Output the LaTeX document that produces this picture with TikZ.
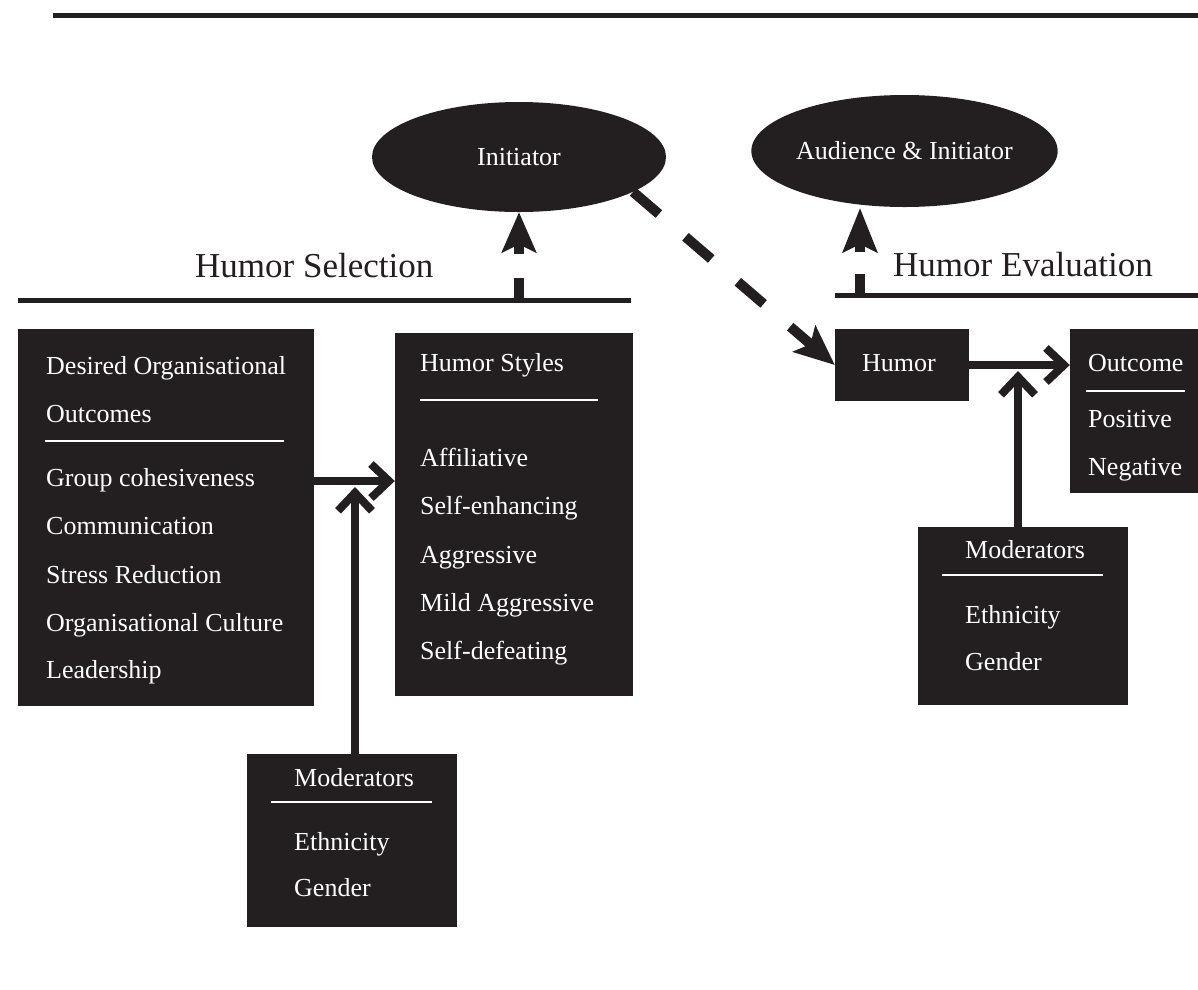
\documentclass[tikz,border=0pt]{standalone}
\usepackage{fontspec}
\setmainfont{Liberation Serif}
\usetikzlibrary{arrows.meta,shapes.geometric}
\definecolor{ink}{HTML}{231F20}
\begin{document}
\begin{tikzpicture}[x=1pt,y=-1pt,
  box/.style={rectangle, fill=ink, draw=none, inner sep=0pt},
  oval/.style={ellipse, fill=ink, draw=none, inner sep=0pt, text=white,
    font=\fontsize{26}{30}\selectfont},
  txt/.style={text=white, font=\fontsize{26}{30}\selectfont, inner sep=0pt, anchor=base west},
  head/.style={text=ink, font=\fontsize{35}{40}\selectfont, inner sep=0pt, anchor=base west},
  rule/.style={ink, line width=5pt},
  wrule/.style={white, line width=2.5pt},
  flow/.style={ink, line width=8pt,
    -{Straight Barb[length=18pt,width=34pt,line cap=butt,line join=miter]}},
  dflow/.style={ink, line width=10pt, -{Stealth[length=40pt,width=34pt,inset=8pt]}},
]
\useasboundingbox (0,0) rectangle (1198,989);

% horizontal rules
\draw[ink, line width=5.5pt] (53,15.5) coordinate (topA) -- (1198,15.5) coordinate (topB);
\draw[rule] (18,300.5) coordinate (selL) -- (631,300.5) coordinate (selR);
\draw[rule] (835,295.5) coordinate (evL) -- (1198,295.5) coordinate (evR);

% headings
\node[head] (hsel) at (195,277) {Humor Selection};
\node[head] (heval) at (893,276) {Humor Evaluation};

% ovals
\node[oval, minimum width=294pt, minimum height=110pt] (init) at (519,157) {Initiator};
\node[oval, minimum width=295pt, minimum height=112pt] (aud) at (904.5,151) {Audience \& Initiator};

% boxes
\node[box, minimum width=296pt, minimum height=377pt] (goals) at (166,517.5) {};
\node[box, minimum width=238pt, minimum height=363pt] (styles) at (514,514.5) {};
\node[box, minimum width=210pt, minimum height=173pt] (modL) at (352,840.5) {};
\node[box, minimum width=134pt, minimum height=72pt] (humor) at (902,365) {};
\node[box, minimum width=128pt, minimum height=164pt] (outcome) at (1134,411) {};
\node[box, minimum width=210pt, minimum height=178pt] (modR) at (1023,616) {};

% desired outcomes
\node[txt] (g1) at (46,374) {Desired Organisational};
\node[txt] (g2) at (46,422) {Outcomes};
\draw[wrule] (45,441) -- (284,441);
\node[txt] (g3) at (46,486) {Group cohesiveness};
\node[txt] (g4) at (46,534) {Communication};
\node[txt] (g5) at (46,583) {Stress Reduction};
\node[txt] (g6) at (46,631) {Organisational Culture};
\node[txt] (g7) at (46,678) {Leadership};

% humor styles
\node[txt] (s1) at (420,371) {Humor Styles};
\draw[wrule] (420,400) -- (598,400);
\node[txt] (s2) at (420,466) {Affiliative};
\node[txt] (s3) at (420,514) {Self-enhancing};
\node[txt] (s4) at (420,563) {Aggressive};
\node[txt] (s5) at (420,611) {Mild Aggressive};
\node[txt] (s6) at (420,659) {Self-defeating};

% moderators (selection)
\node[txt] (m1) at (294,786) {Moderators};
\draw[wrule] (271,802) -- (432,802);
\node[txt] (m2) at (294,850) {Ethnicity};
\node[txt] (m3) at (294,896) {Gender};

% humor / outcome
\node[txt] (hu) at (862,371) {Humor};
\node[txt] (o1) at (1088,371) {Outcome};
\draw[wrule] (1086,391) -- (1185,391);
\node[txt] (o2) at (1088,427) {Positive};
\node[txt] (o3) at (1088,475) {Negative};

% moderators (evaluation)
\node[txt] (r1) at (965,558) {Moderators};
\draw[wrule] (942,575) -- (1103,575);
\node[txt] (r2) at (965,623) {Ethnicity};
\node[txt] (r3) at (965,670) {Gender};

% solid connectors
\coordinate (lvl) at (0,481);
\coordinate (stemL) at (355,487);
\draw[flow] (goals.east |- lvl) -- (styles.west |- lvl);
\draw[flow] (modL.north -| stemL) -- (stemL);

\coordinate (rvl) at (0,365);
\coordinate (stemR) at (1018,371);
\draw[flow] (humor.east |- rvl) -- (outcome.west |- rvl);
\draw[flow] (modR.north -| stemR) -- (stemR);

% dashed connectors
\coordinate (selA) at (519,300.5);
\draw[dflow, dash pattern=on 23pt off 24pt] (selA) -- (init.south);
\coordinate (evA) at (860,295.5);
\coordinate (audTip) at (860,208);
\draw[dflow, dash pattern=on 22pt off 22pt,
  -{Stealth[length=44pt,width=34pt,inset=8pt]}] (evA) -- (audTip);
\draw[dflow, dash pattern=on 34pt off 35pt] (init.-17) -- (humor.west);
\end{tikzpicture}
\end{document}
